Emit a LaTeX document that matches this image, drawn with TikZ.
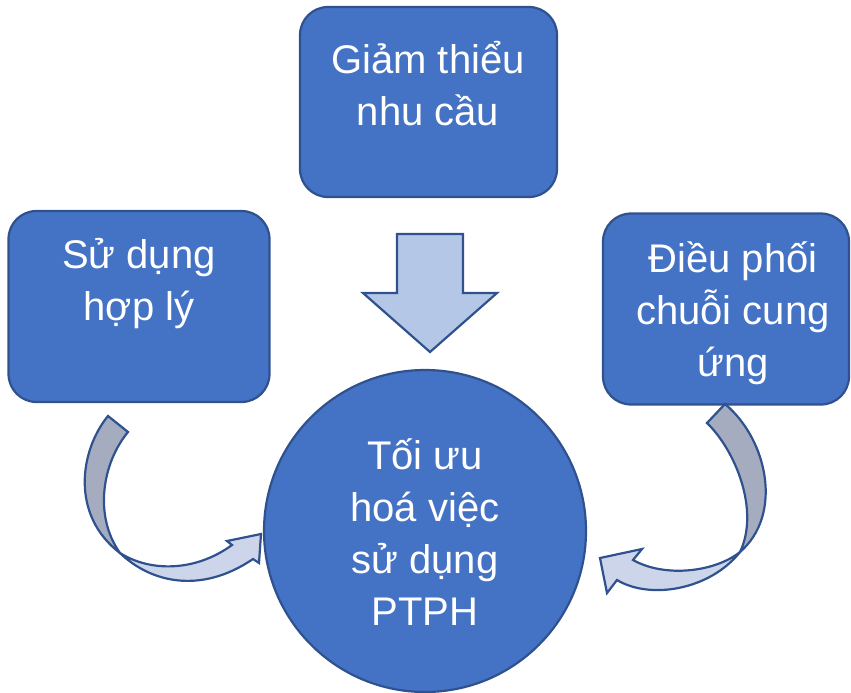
\documentclass[tikz,border=0pt]{standalone}
\usepackage{fontspec}
\setmainfont{Liberation Sans}
\usetikzlibrary{positioning}
\definecolor{boxblue}{HTML}{4472C4}
\definecolor{edgeblue}{HTML}{2F528F}
\definecolor{arrowfill}{HTML}{B4C7E7}
\definecolor{ribbondark}{HTML}{A5ACC0}
\definecolor{ribbonlight}{HTML}{CDD5EA}

\begin{document}
\begin{tikzpicture}[x=1pt,y=-1pt,
    box/.style={draw=edgeblue,fill=boxblue,line width=2.2pt,rounded corners=28pt,inner sep=0pt},
    txt/.style={text=white,font=\fontsize{40}{52}\selectfont,align=center,anchor=base},
    block/.style={draw=edgeblue,line width=2.2pt,line join=miter}]
    \useasboundingbox (0,0) rectangle (851,693);

    \node[box,minimum width=257pt,minimum height=190pt] (need)   at (428.5,102) {};
    \node[box,minimum width=261pt,minimum height=191pt] (use)    at (139,306.5) {};
    \node[box,minimum width=246pt,minimum height=191pt] (supply) at (726,309)   {};
    \node[circle,draw=edgeblue,fill=boxblue,line width=2.2pt,minimum size=322pt,inner sep=0pt] (goal) at (425,531) {};

    \node[txt] (need_t)   at (428,125) {Giảm thiểu\\nhu cầu};
    \node[txt] (use_t)    at (139,320) {Sử dụng\\hợp lý};
    \node[txt] (supply_t) at (733,376) {Điều phối\\chuỗi cung\\ứng};
    \node[txt] (goal_t)   at (425,625) {Tối ưu\\hoá việc\\sử dụng\\PTPH};

    \path[block,fill=arrowfill] (397,234) -- (463,234) -- (463,293) -- (497,293)
        -- (430,352) -- (363,293) -- (397,293) -- cycle;

    \path[block,fill=ribbonlight] (120,553) .. controls (150,572) and (195,572) .. (232,545)
        -- (227,541) -- (261,534) -- (259,563) -- (253,559)
        .. controls (200,595) and (150,582) .. (120,553) -- cycle;
    \path[block,fill=ribbondark] (108,416) -- (128,432) .. controls (103,462) and (93,515) .. (120,553)
        .. controls (70,515) and (80,450) .. (108,416) -- cycle;

    \path[block,fill=ribbonlight] (740,552) .. controls (715,572) and (665,578) .. (633,560)
        -- (642,549) -- (600,558) -- (607,593) -- (617,580)
        .. controls (650,600) and (710,590) .. (740,552) -- cycle;
    \path[block,fill=ribbondark] (725,404) .. controls (768,440) and (783,515) .. (740,552)
        .. controls (760,510) and (735,450) .. (707,423) -- cycle;
\end{tikzpicture}
\end{document}
